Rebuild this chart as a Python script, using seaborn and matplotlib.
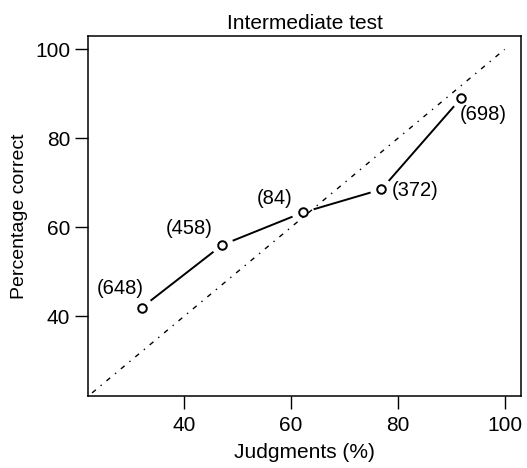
import numpy as np
import pandas as pd
import matplotlib
matplotlib.use("Agg")
import matplotlib.pyplot as plt
import seaborn as sns

# Datos
judgments = [32.0, 47.1, 62.2, 76.9, 91.9]
percent_correct = [41.9, 56.0, 63.3, 68.5, 89.1]
counts = ["(648)", "(458)", "(84)", "(372)", "(698)"]
diag = [20, 100]

# desplazamiento de cada etiqueta (puntos) y alineación
label_offsets = [(-15.5, 13.5), (-23.5, 11.7), (-20, 10.3), (7.5, -1), (-1.5, -11.7)]
label_ha = ["center", "center", "center", "left", "left"]

df = pd.DataFrame({"Judgments": judgments, "Correct": percent_correct, "n": counts})

sns.set_style("ticks")
plt.rcParams["font.family"] = ["Liberation Sans", "DejaVu Sans"]
plt.rcParams["text.color"] = "black"
plt.rcParams["axes.labelcolor"] = "black"
plt.rcParams["axes.edgecolor"] = "black"
plt.rcParams["xtick.color"] = "black"
plt.rcParams["ytick.color"] = "black"
plt.rcParams["axes.linewidth"] = 1.1
plt.rcParams["xtick.major.size"] = 9.5
plt.rcParams["ytick.major.size"] = 9.5
plt.rcParams["xtick.major.width"] = 1.0
plt.rcParams["ytick.major.width"] = 1.0
plt.rcParams["xtick.major.pad"] = 5
plt.rcParams["ytick.major.pad"] = 3.5

fig = plt.figure(figsize=(5.27, 4.68), dpi=100)
ax = fig.add_axes([0.1676, 0.1538, 0.8204, 0.7692])

# línea sólida entre puntos
sns.lineplot(data=df, x="Judgments", y="Correct", color="black", lw=1.4, ax=ax, zorder=2)
# huecos alrededor de los puntos (estilo type="b")
sns.scatterplot(data=df, x="Judgments", y="Correct", s=260, color="white", edgecolor="none",
                ax=ax, zorder=3)
# diagonal
sns.lineplot(x=diag, y=diag, color="black", lw=1.0, ax=ax, zorder=4,
             dashes=False).lines[-1].set_dashes((3.5, 4.5, 1, 4.5))
# círculos abiertos
sns.scatterplot(data=df, x="Judgments", y="Correct", s=38, facecolor="white",
                edgecolor="black", linewidth=1.4, ax=ax, zorder=5)

for i, row in df.iterrows():
    ax.annotate(row["n"], (row["Judgments"], row["Correct"]), xytext=label_offsets[i],
                textcoords="offset points", ha=label_ha[i], va="center", fontsize=14.5)

ax.set_xlim(22, 103)
ax.set_ylim(22, 103)
ax.set_xticks([40, 60, 80, 100])
ax.set_yticks([40, 60, 80, 100])
ax.tick_params(labelsize=15)
ax.set_xlabel("Judgments (%)", fontsize=15, labelpad=6)
ax.set_ylabel("Percentage correct", fontsize=14, labelpad=5)
ax.set_title("Intermediate test", fontsize=15, pad=5)

fig.savefig("out.png", dpi=100)
